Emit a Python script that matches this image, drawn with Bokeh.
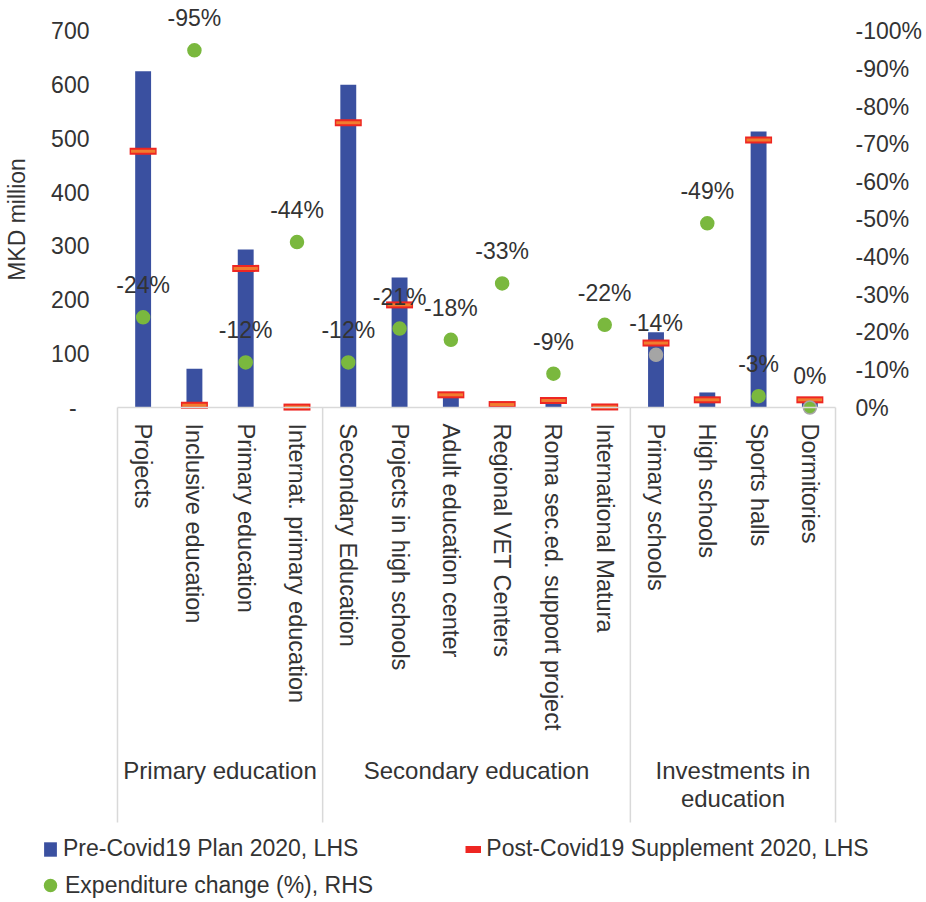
from bokeh.plotting import figure
from bokeh.models import (Range1d, LinearAxis, FixedTicker, PrintfTickFormatter,
                          ColumnDataSource, Legend, LegendItem)
from bokeh.transform import dodge
from bokeh.core.properties import value
from bokeh.embed import file_html
from bokeh.resources import INLINE

# ---------------- data ----------------
groups = ["Primary education", "Secondary education", "Investments in\neducation"]
group_items = [
    ["Projects", "Inclusive education", "Primary education", "Internat. primary education"],
    ["Secondary Education", "Projects in high schools", "Adult education center",
     "Regional VET Centers", "Roma sec.ed. support project", "International Matura"],
    ["Primary schools", "High schools", "Sports halls", "Dormitories"],
]
pre_covid = [626, 72, 294, 1.5, 601, 242, 29, 8.2, 14.3, 1.3, 140, 28, 514, 14.3]
post_covid = [477, 4, 259, 0.8, 530, 191, 23.6, 5.5, 13, 1.0, 120, 14.3, 498, 14.3]
change_pct = [-24, -95, -12, -44, -12, -21, -18, -33, -9, -22, -14, -49, -3, 0]
lhs_ticks = [0, 100, 200, 300, 400, 500, 600, 700]
rhs_ticks = [0, -10, -20, -30, -40, -50, -60, -70, -80, -90, -100]

# ---------------- style / layout ----------------
FONT = "Liberation Sans"
TXT = "#333333"
BLUE = "#3A50A0"
RED = "#EE2622"
ORANGE = "#F07D2F"
GREEN = "#7AB83E"
GREY = "#A5A5A5"
LINE_GREY = "#D9D9D9"

LHS_MAX, RHS_MIN = 700, -100
Y_TOP, Y_BOTTOM = 757.7, -917.8      # frame covers the whole canvas
SEP_BOTTOM = -772.6                   # lower end of the category box lines
X_LEFT_PAD, X_RIGHT_PAD = 2.281, 1.774
ratio = RHS_MIN / LHS_MAX

cats = [c for items in group_items for c in items]
xs = [i + 0.5 for i in range(len(cats))]
bounds_idx = [0]
for items in group_items:
    bounds_idx.append(bounds_idx[-1] + len(items))
group_centers = [(a + b) / 2 for a, b in zip(bounds_idx[:-1], bounds_idx[1:])]
n = len(cats)

dot_fill = [GREY if c == "Primary schools" else GREEN for c in cats]
dot_line = [GREY if c in ("Primary schools", "Dormitories") else GREEN for c in cats]

src = ColumnDataSource(dict(
    x=xs, pre=pre_covid, post=post_covid, pct=change_pct,
    label=[f"{v}%" for v in change_pct], dot_fill=dot_fill, dot_line=dot_line,
))

p = figure(width=926, height=900,
           x_range=Range1d(-X_LEFT_PAD, n + X_RIGHT_PAD),
           y_range=Range1d(Y_BOTTOM, Y_TOP),
           output_backend="svg", toolbar_location=None,
           min_border_left=0, min_border_right=0, min_border_top=0, min_border_bottom=0)
p.extra_y_ranges = {"pct": Range1d(start=Y_BOTTOM * ratio, end=Y_TOP * ratio)}
p.xgrid.visible = False
p.ygrid.visible = False
p.outline_line_color = None


def style_axis(ax, size="23px"):
    ax.major_tick_line_color = None
    ax.minor_tick_line_color = None
    ax.major_tick_out = 0
    ax.minor_tick_out = 0
    ax.major_label_text_font = FONT
    ax.major_label_text_font_size = size
    ax.major_label_text_color = TXT


# left axis
ya = p.yaxis[0]
style_axis(ya)
ya.fixed_location = 0
ya.ticker = FixedTicker(ticks=lhs_ticks)
ya.bounds = (0, LHS_MAX)
ya.major_label_overrides = {0: "-\u2007"}
ya.axis_label = "MKD million"
ya.axis_label_text_font = FONT
ya.axis_label_text_font_size = "23px"
ya.axis_label_text_font_style = "normal"
ya.axis_label_text_color = TXT
ya.axis_label_standoff = 18
ya.axis_line_color = None
ya.major_label_standoff = 28

# right axis
ra = LinearAxis(y_range_name="pct", ticker=FixedTicker(ticks=rhs_ticks),
                formatter=PrintfTickFormatter(format="%d%%"), bounds=(RHS_MIN, 0),
                fixed_location=n)
style_axis(ra)
ra.axis_line_color = None
ra.major_label_standoff = 20
p.add_layout(ra, "right")

# category axis at zero
xa = p.xaxis[0]
style_axis(xa, "23.5px")
xa.fixed_location = 0
xa.bounds = (0, n)
xa.ticker = FixedTicker(ticks=xs)
xa.major_label_overrides = {x: c for x, c in zip(xs, cats)}
xa.axis_line_color = LINE_GREY
xa.axis_line_width = 1.5
xa.major_label_orientation = "vertical"
xa.major_label_standoff = 16

# group axis
ga = LinearAxis(fixed_location=0, bounds=(0, n), ticker=FixedTicker(ticks=group_centers))
style_axis(ga, "24px")
ga.major_label_overrides = {x: g for x, g in zip(group_centers, groups)}
ga.major_label_text_line_height = 1.05
ga.axis_line_color = None
ga.major_label_orientation = "horizontal"
ga.major_label_standoff = 349
p.add_layout(ga, "below")

# category box lines
seps = ColumnDataSource(dict(x=bounds_idx))
p.segment(x0="x", y0=0, x1="x", y1=SEP_BOTTOM, source=seps,
          line_color=LINE_GREY, line_width=1.5)

bars = p.vbar(x="x", top="pre", width=0.31, source=src, fill_color=BLUE, line_color=None)

dash_red = p.segment(x0=dodge("x", -0.263), y0="post", x1=dodge("x", 0.263), y1="post",
                     source=src, line_color=RED, line_width=7)
p.segment(x0=dodge("x", -0.236), y0="post", x1=dodge("x", 0.236), y1="post",
          source=src, line_color=ORANGE, line_width=3)

dots = p.scatter(x="x", y="pct", y_range_name="pct", source=src, size=13,
                 fill_color="dot_fill", line_color="dot_line", line_width=1.5)

p.text(x="x", y="pct", text="label", y_range_name="pct", source=src, y_offset=-32,
       text_align="center", text_baseline="middle", text_font=value(FONT),
       text_font_size="23px", text_color=TXT)

leg1 = Legend(items=[LegendItem(label="Pre-Covid19 Plan 2020, LHS", renderers=[bars]),
                     LegendItem(label="Post-Covid19 Supplement 2020, LHS", renderers=[dash_red])],
              orientation="horizontal", location=(42, 38), glyph_width=16, glyph_height=18,
              label_standoff=5, spacing=107, padding=0, margin=0,
              border_line_color=None, background_fill_alpha=0,
              label_text_font=FONT, label_text_font_size="23px", label_text_color=TXT)
leg2 = Legend(items=[LegendItem(label="Expenditure change (%), RHS", renderers=[dots])],
              orientation="horizontal", location=(35, 0), glyph_width=30, glyph_height=30,
              label_standoff=-1, padding=0, margin=0,
              border_line_color=None, background_fill_alpha=0,
              label_text_font=FONT, label_text_font_size="23px", label_text_color=TXT)
p.add_layout(leg1)
p.add_layout(leg2)

open("out.html", "w").write(file_html(p, INLINE))
